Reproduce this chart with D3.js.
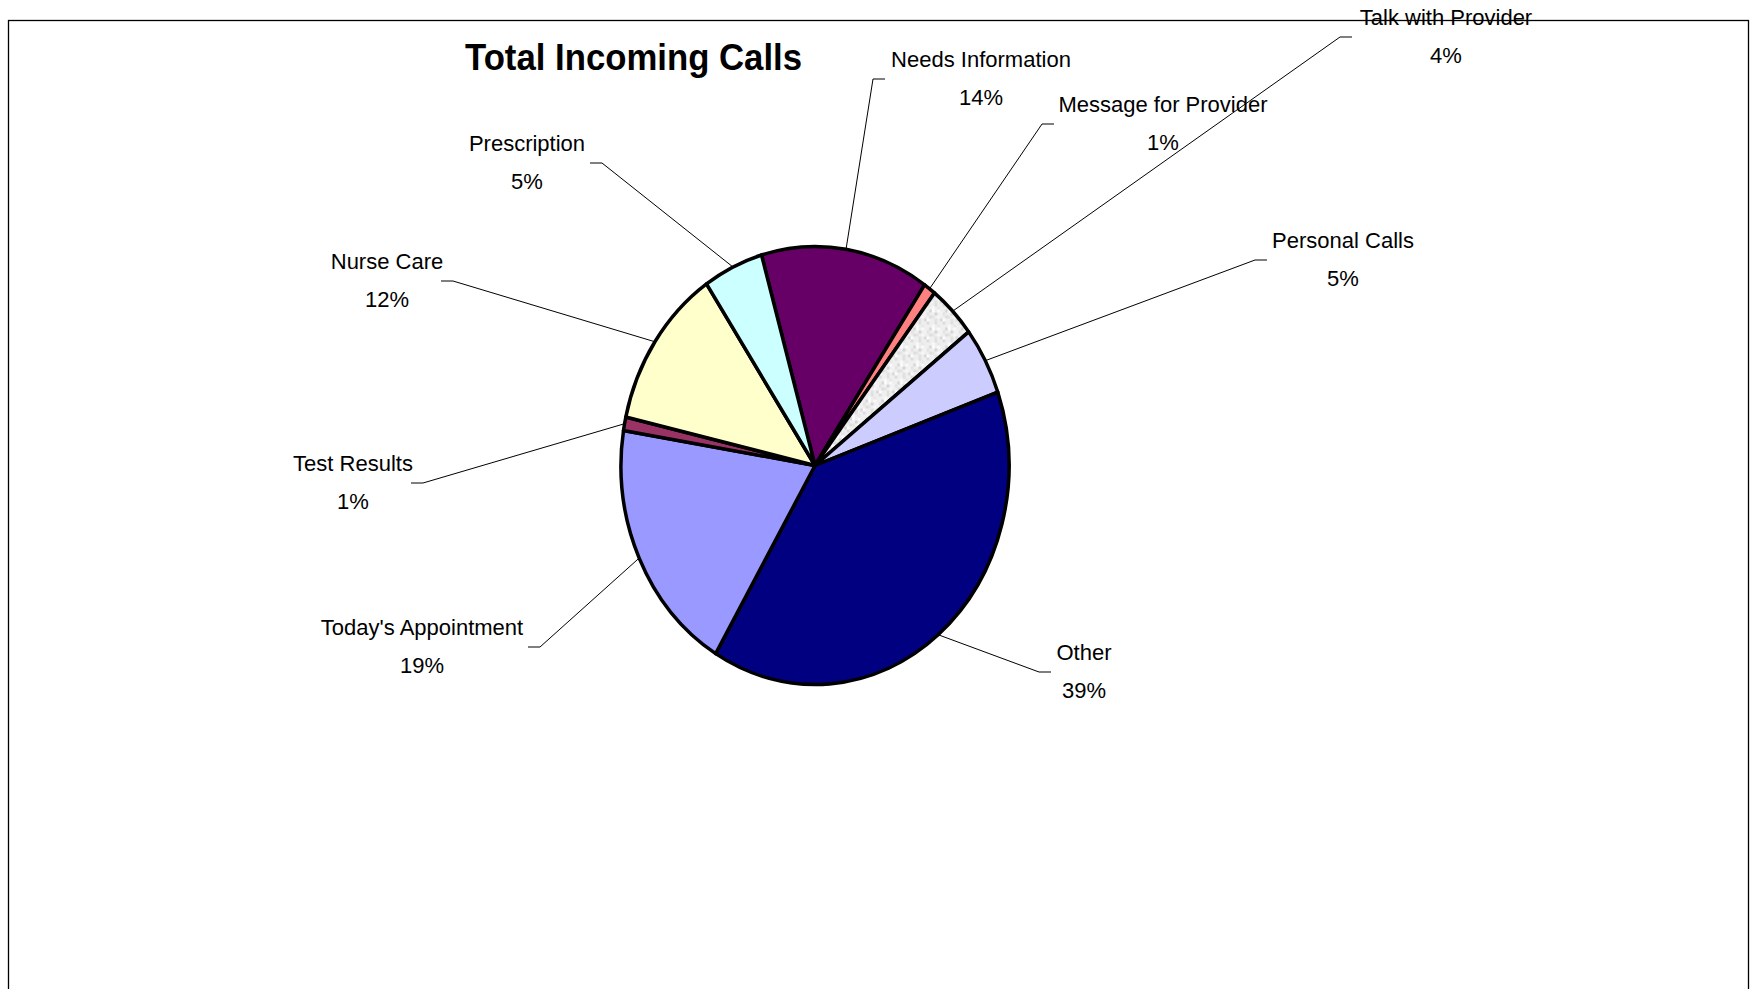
<!DOCTYPE html>
<html>
<head>
<meta charset="utf-8">
<script src="https://cdn.jsdelivr.net/npm/d3@7"></script>
<style>
  html, body { margin: 0; padding: 0; background: #ffffff; }
  svg { display: block; }
  text { font-family: "Liberation Sans", Arial, sans-serif; fill: #000; }
</style>
</head>
<body>
<script>
// Call categories, clockwise from the top of the pie
const categories = [
  "Needs Information",
  "Message for Provider",
  "Talk with Provider",
  "Personal Calls",
  "Other",
  "Today's Appointment",
  "Test Results",
  "Nurse Care",
  "Prescription"
];
// Share of total incoming calls (%)
const shares = [14, 1, 4, 5, 39, 19, 1, 12, 5];
// Slice fills
const sliceColors = [
  "#660066", "#FF8080", "url(#speckle)", "#CCCCFF", "#000080",
  "#9999FF", "#993366", "#FFFFCC", "#CCFFFF"
];

const W = 1756, H = 989;
const cx = 815, cy = 465.5, rx = 194, ry = 219;
const startDeg = -16;

// Hand-placed label spots: text centre x, first-line baseline y, leader elbow x
const labelPlacement = {
  "Needs Information":    { x: 981,  y: 67,  elbow: 873 },
  "Message for Provider": { x: 1163, y: 112, elbow: 1042 },
  "Talk with Provider":   { x: 1446, y: 25,  elbow: 1340 },
  "Personal Calls":       { x: 1343, y: 248, elbow: 1255 },
  "Other":                { x: 1084, y: 660, elbow: 1039 },
  "Today's Appointment":  { x: 422,  y: 635, elbow: 540 },
  "Test Results":         { x: 353,  y: 471, elbow: 423 },
  "Nurse Care":           { x: 387,  y: 269, elbow: 453 },
  "Prescription":         { x: 527,  y: 151, elbow: 602 }
};

const svg = d3.select("body").append("svg")
  .attr("width", W).attr("height", H);

// Speckled light-grey fill
const defs = svg.append("defs");
const pat = defs.append("pattern")
  .attr("id", "speckle").attr("patternUnits", "userSpaceOnUse")
  .attr("width", 18).attr("height", 18);
pat.append("rect").attr("width", 18).attr("height", 18).attr("fill", "#efefef");
const speckCells = [
  [0, 0, "#dadada"], [6, 3, "#fafafa"], [9, 0, "#dedede"], [3, 6, "#d4d4d4"],
  [12, 6, "#fbfbfb"], [0, 9, "#e2e2e2"], [9, 9, "#d3d3d3"], [6, 12, "#e4e4e4"],
  [12, 12, "#f8f8f8"], [3, 12, "#dcdcdc"], [12, 3, "#e6e6e6"], [6, 6, "#fdfdfd"],
  [15, 15, "#d8d8d8"], [15, 9, "#f4f4f4"], [0, 15, "#fcfcfc"], [9, 15, "#e0e0e0"]
];
speckCells.forEach(([x, y, c]) => {
  pat.append("rect").attr("x", x).attr("y", y).attr("width", 3).attr("height", 3).attr("fill", c);
});

// Chart area frame
svg.append("rect")
  .attr("x", 8.5).attr("y", 20.5)
  .attr("width", 1740).attr("height", 1000)
  .attr("fill", "none").attr("stroke", "#000").attr("stroke-width", 1.3);

// Title
svg.append("text")
  .attr("x", 465).attr("y", 70)
  .attr("font-size", 37).attr("font-weight", "bold")
  .attr("textLength", 337).attr("lengthAdjust", "spacingAndGlyphs")
  .text("Total Incoming Calls");

const rows = categories.map((c, i) => ({ name: c, value: shares[i], color: sliceColors[i] }));

const pie = d3.pie()
  .sort(null)
  .value(d => d.value)
  .startAngle(startDeg * Math.PI / 180)
  .endAngle((startDeg + 360) * Math.PI / 180);
const arcs = pie(rows);

const arc = d3.arc().innerRadius(0).outerRadius(ry);

// Slices (circle stretched into the chart's ellipse)
svg.append("g")
  .attr("transform", `translate(${cx},${cy}) scale(${rx / ry},1)`)
  .selectAll("path")
  .data(arcs)
  .join("path")
  .attr("d", arc)
  .attr("fill", d => d.data.color)
  .attr("stroke", "#000")
  .attr("stroke-width", 3.5)
  .attr("stroke-linejoin", "round")
  .attr("vector-effect", "non-scaling-stroke");

// Leader lines and labels
const edgePoint = a => [cx + rx * Math.sin(a), cy - ry * Math.cos(a)];
const lab = svg.append("g");
arcs.forEach(d => {
  const p = labelPlacement[d.data.name];
  const mid = (d.startAngle + d.endAngle) / 2;
  const [ex, ey] = edgePoint(mid);
  const ly = p.y + 12;
  const dir = p.elbow < p.x ? 1 : -1;
  lab.append("path")
    .attr("d", d3.line()([[ex, ey], [p.elbow, ly], [p.elbow + dir * 12, ly]]))
    .attr("fill", "none").attr("stroke", "#000").attr("stroke-width", 1);
  lab.append("text")
    .attr("x", p.x).attr("y", p.y)
    .attr("text-anchor", "middle").attr("font-size", 22)
    .text(d.data.name);
  lab.append("text")
    .attr("x", p.x).attr("y", p.y + 38)
    .attr("text-anchor", "middle").attr("font-size", 22)
    .text(`${d.data.value}%`);
});
</script>
</body>
</html>
